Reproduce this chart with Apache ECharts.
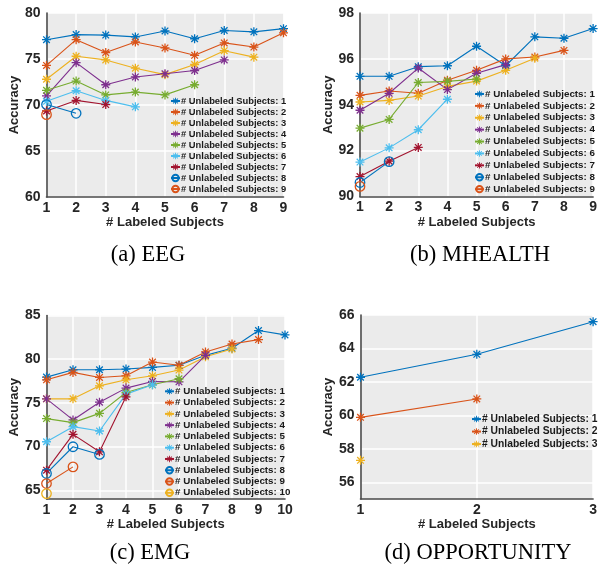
<!DOCTYPE html>
<html><head><meta charset="utf-8">
<script src="https://cdn.jsdelivr.net/npm/echarts@6/dist/echarts.min.js"></script>
<style>html,body{margin:0;padding:0;background:#fff}#c{width:600px;height:567px}</style>
</head><body><div id="c"></div>
<script>
// ---- data (x = number of labeled subjects = index + 1) ----
const seriesNames = ['# Unlabeled Subjects: 1','# Unlabeled Subjects: 2','# Unlabeled Subjects: 3','# Unlabeled Subjects: 4','# Unlabeled Subjects: 5','# Unlabeled Subjects: 6','# Unlabeled Subjects: 7','# Unlabeled Subjects: 8','# Unlabeled Subjects: 9','# Unlabeled Subjects: 10'];
const eeg = [
  [77.1,77.65,77.6,77.4,78.05,77.2,78.1,77.95,78.3],
  [74.3,77.1,75.7,76.85,76.2,75.4,76.75,76.3,77.85],
  [72.8,75.3,74.9,74.0,73.3,74.4,75.9,75.2],
  [71.0,74.6,72.2,73.05,73.4,73.75,74.9],
  [71.6,72.6,71.1,71.4,71.1,72.2],
  [70.4,71.55,70.5,69.8],
  [69.35,70.5,70.05],
  [70.05,69.1],
  [68.95]
];
const mhealth = [
  [95.24,95.24,95.66,95.7,96.55,95.7,96.96,96.9,97.32],
  [94.41,94.6,94.5,95.07,95.5,96.0,96.08,96.37],
  [94.12,94.19,94.38,94.8,95.03,95.5,96.03],
  [93.76,94.5,95.6,94.66,95.37,95.75],
  [92.98,93.36,94.97,95.02,95.12],
  [91.5,92.12,92.91,94.24],
  [90.87,91.54,92.14],
  [90.61,91.52],
  [90.44]
];
const emg = [
  [77.95,78.79,78.79,78.87,79.06,79.3,80.44,81.25,83.28,82.78],
  [77.64,78.49,77.91,78.1,79.67,79.3,80.83,81.74,82.24],
  [75.46,75.46,76.95,77.64,78.1,78.76,80.27,81.17],
  [75.46,73.05,75.08,76.69,77.45,77.41,80.44],
  [73.2,72.74,73.8,76.19,77.07,77.76],
  [70.55,72.28,71.78,76.0,77.07],
  [67.3,71.4,69.4,75.69],
  [66.92,69.98,69.1],
  [65.77,67.68],
  [64.62]
];
const opportunity = [
  [62.28,63.65,65.6],
  [59.88,60.98],
  [57.31]
];
const yTicksEEG = [60,65,70,75,80];
const yTicksMHEALTH = [90,92,94,96,98];
const yTicksEMG = [65,70,75,80,85];
const yTicksOPP = [56,58,60,62,64,66];
const captions = ['(a) EEG','(b) MHEALTH','(c) EMG','(d) OPPORTUNITY'];

// ---- styling ----
const colors = ['#0072BD','#D95319','#EDB120','#7E2F8E','#77AC30','#4DBEEE','#A2142F','#0072BD','#D95319','#EDB120'];
const STAR = 'path://M1 8.7L19 8.7L19 11.3L1 11.3Z M8.7 1L11.3 1L11.3 19L8.7 19Z M2.5 4.3L4.3 2.5L17.5 15.7L15.7 17.5Z M15.7 2.5L17.5 4.3L4.3 17.5L2.5 15.7Z';
const SANS = '"Liberation Sans", Arial, Helvetica, sans-serif';

const panels = [
  {data: eeg, grid:{left:46.5,top:13,width:237,height:184}, yMin:60, yMax:80, yTicks:yTicksEEG, xMax:9,
   legend:{left:170, top:95.5, lh:11, fs:9.4}, cap:{x:148, y:255}},
  {data: mhealth, grid:{left:360,top:13,width:237,height:183.5}, yMin:90, yMax:98, yTicks:yTicksMHEALTH, xMax:9,
   legend:{left:474, top:88, lh:11.9, fs:9.8}, cap:{x:480, y:255}},
  {data: emg, grid:{left:46.5,top:315.5,width:238.5,height:183.5}, yMin:64, yMax:85, yTicks:yTicksEMG, xMax:10,
   legend:{left:164, top:385.7, lh:11.27, fs:9.8}, cap:{x:150, y:553}},
  {data: opportunity, grid:{left:360.5,top:315,width:237,height:184}, yMin:55, yMax:66, yTicks:yTicksOPP, xMax:3,
   legend:{left:471, top:412.8, lh:12.5, fs:10.3}, cap:{x:478, y:553}}
];

const grids = [], xAxes = [], yAxes = [], series = [], legends = [], graphics = [];
panels.forEach((p, pi) => {
  grids.push(Object.assign({show:true, backgroundColor:'#ebebeb', borderWidth:0}, p.grid));
  xAxes.push({
    gridIndex: pi, type:'value', min:1, max:p.xMax, interval:1,
    name:'# Labeled Subjects', nameLocation:'middle', nameGap:19,
    nameTextStyle:{fontFamily:SANS, fontWeight:'bold', fontSize:13, color:'#262626'},
    axisLine:{show:true, onZero:false, lineStyle:{color:'#4a4a4a', width:1.6}},
    axisTick:{show:false},
    axisLabel:{fontFamily:SANS, fontWeight:'bold', fontSize:14, color:'#262626', margin:4},
    splitLine:{show:true, lineStyle:{color:'#ffffff', width:1.5}}
  });
  yAxes.push({
    gridIndex: pi, type:'value', min:p.yMin, max:p.yMax,
    name:'Accuracy', nameLocation:'middle', nameGap:21,
    nameTextStyle:{fontFamily:SANS, fontWeight:'bold', fontSize:13, color:'#262626'},
    axisLine:{show:true, lineStyle:{color:'#4a4a4a', width:1.6}},
    axisTick:{show:false, customValues:p.yTicks},
    axisLabel:{fontFamily:SANS, fontWeight:'bold', fontSize:14, color:'#262626', margin:6, customValues:p.yTicks},
    splitLine:{show:true, lineStyle:{color:'#ffffff', width:1.5}}
  });
  const names = [];
  p.data.forEach((vals, k) => {
    const c = colors[k];
    const isStar = k < 7;
    names.push(seriesNames[k]);
    series.push({
      type:'line', name:seriesNames[k], xAxisIndex:pi, yAxisIndex:pi,
      data: vals.map((v, i) => [i + 1, v]),
      symbol: isStar ? STAR : 'circle',
      symbolSize: isStar ? 9 : 9.5,
      showSymbol:true, color:c,
      lineStyle:{color:c, width:1.1},
      itemStyle: isStar ? {color:c} : {color:'rgba(0,0,0,0)', borderColor:c, borderWidth:1.3},
      emphasis:{disabled:true}, silent:true, animation:false, clip:false
    });
  });
  legends.push({
    data: names, orient:'vertical', left:p.legend.left, top:p.legend.top,
    itemWidth:9, itemHeight:8, itemGap:0, padding:0, selectedMode:false,
    textStyle:{fontFamily:SANS, fontWeight:'bold', fontSize:p.legend.fs, color:'#1a1a1a', lineHeight:p.legend.lh, padding:[0,0,0,-4]}
  });
  graphics.push({
    type:'text', x:p.cap.x, y:p.cap.y,
    style:{text:captions[pi], font:'22.5px "Liberation Serif", "Times New Roman", serif', fill:'#000', textAlign:'center', textVerticalAlign:'middle'}
  });
});

const chart = echarts.init(document.getElementById('c'), null, {renderer:'canvas'});
chart.setOption({
  animation:false, backgroundColor:'#fff',
  grid:grids, xAxis:xAxes, yAxis:yAxes, series:series, legend:legends, graphic:graphics
});
</script></body></html>
